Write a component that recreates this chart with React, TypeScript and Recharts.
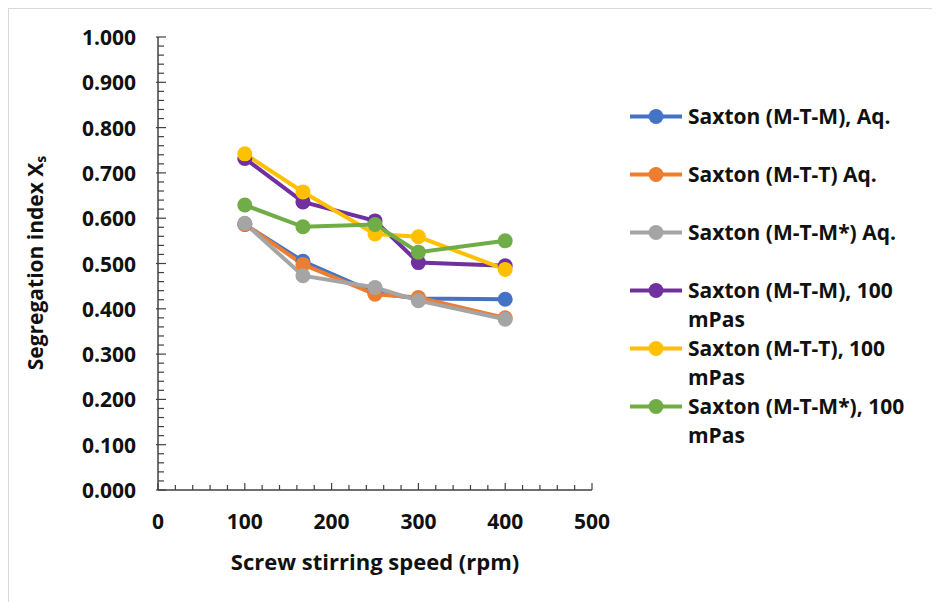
import React from "react";
import { LineChart, Line, XAxis, YAxis } from "recharts";

// screw stirring speed (rpm)
const speeds = [100, 167, 250, 300, 400];

// segregation index Xs per series
const mtmAq = [0.586, 0.505, 0.435, 0.423, 0.421];
const mttAq = [0.587, 0.498, 0.432, 0.425, 0.38];
const mtmStarAq = [0.589, 0.473, 0.447, 0.418, 0.377];
const mtm100 = [0.732, 0.636, 0.594, 0.502, 0.495];
const mtt100 = [0.742, 0.658, 0.565, 0.559, 0.487];
const mtmStar100 = [0.629, 0.581, 0.586, 0.525, 0.55];

const seriesNames = [
  "Saxton (M-T-M), Aq.",
  "Saxton (M-T-T) Aq.",
  "Saxton (M-T-M*) Aq.",
  "Saxton (M-T-M), 100 mPas",
  "Saxton (M-T-T), 100 mPas",
  "Saxton (M-T-M*), 100 mPas",
];
const seriesColors = ["#4472C4", "#ED7D31", "#A5A5A5", "#7030A0", "#FFC000", "#70AD47"];
const seriesValues = [mtmAq, mttAq, mtmStarAq, mtm100, mtt100, mtmStar100];

const yMajorTicks = [0, 0.1, 0.2, 0.3, 0.4, 0.5, 0.6, 0.7, 0.8, 0.9, 1.0];
const xMajorTicks = [0, 100, 200, 300, 400, 500];
const yTicks = Array.from({ length: 51 }, (_, i) => i / 50);
const xTicks = Array.from({ length: 26 }, (_, i) => i * 20);

const data = speeds.map((s, i) => {
  const row: Record<string, number> = { speed: s };
  seriesValues.forEach((vals, k) => {
    row["s" + k] = vals[i];
  });
  return row;
});

const FONT = "'Open Sans', sans-serif";
const INK = "#404040";
const TXT = "#111";
const FS = 21;

const isMajor = (v: number, list: number[]) => list.some((m) => Math.abs(m - v) < 1e-6);

function YTick(props: any) {
  const { x, y, payload } = props;
  const v = payload.value as number;
  const major = isMajor(v, yMajorTicks);
  return (
    <g>
      <line x1={major ? x - 2 : x} x2={x + (major ? 8 : 6)} y1={y} y2={y} stroke={INK} strokeWidth={1.2} />
      {major && (
        <text x={x - 22} y={y} textAnchor="end" dominantBaseline="central" fontFamily={FONT} fontWeight={700} fontSize={FS} fill={TXT}>
          {v.toFixed(3)}
        </text>
      )}
    </g>
  );
}

function XTick(props: any) {
  const { x, y, payload } = props;
  const v = payload.value as number;
  const major = isMajor(v, xMajorTicks);
  return (
    <g>
      <line x1={x} x2={x} y1={y} y2={y - (major ? 7 : 5)} stroke={INK} strokeWidth={1.2} />
      {major && (
        <text x={x} y={y + 31} textAnchor="middle" dominantBaseline="central" fontFamily={FONT} fontWeight={700} fontSize={FS} fill={TXT}>
          {v}
        </text>
      )}
    </g>
  );
}

function LegendBox() {
  return (
    <div
      style={{
        position: "absolute",
        left: 621,
        top: 93,
        fontFamily: FONT,
        fontWeight: 700,
        fontSize: FS,
        color: TXT,
      }}
    >
      {seriesNames.map((name, k) => (
        <div key={name} style={{ display: "flex", height: 58, alignItems: "flex-start" }}>
          <svg width={58} height={29} style={{ flex: "none" }}>
            <line x1={0} x2={52} y1={14.5} y2={14.5} stroke={seriesColors[k]} strokeWidth={4} />
            <circle cx={26} cy={14.5} r={7.5} fill={seriesColors[k]} />
          </svg>
          <div style={{ width: 232, lineHeight: "29px" }}>{name}</div>
        </div>
      ))}
    </div>
  );
}

export default function App() {
  return (
    <div
      style={{
        position: "relative",
        width: 932,
        height: 594,
        borderTop: "1px solid #d9d9d9",
        borderLeft: "1px solid #d9d9d9",
        background: "#fff",
      }}
    >
      <LineChart width={932} height={594} data={data} margin={{ top: 28, right: 349, bottom: 73, left: 0 }}>
        <XAxis
          dataKey="speed"
          type="number"
          domain={[0, 500]}
          ticks={xTicks}
          interval={0}
          tickSize={0}
          tickMargin={0}
          tick={<XTick />}
          height={40}
          axisLine={{ stroke: INK, strokeWidth: 1.5 }}
          label={{
            content: () => (
              <text x={366} y={552} textAnchor="middle" dominantBaseline="central" fontFamily={FONT} fontWeight={700} fontSize={22} fill={TXT}>
                Screw stirring speed (rpm)
              </text>
            ),
          }}
        />
        <YAxis
          type="number"
          domain={[0, 1]}
          ticks={yTicks}
          interval={0}
          width={149}
          tickSize={0}
          tickMargin={0}
          tick={<YTick />}
          axisLine={{ stroke: INK, strokeWidth: 1.5 }}
          label={{
            content: () => (
              <text
                x={26}
                y={254}
                transform="rotate(-90 26 254)"
                textAnchor="middle"
                dominantBaseline="central"
                fontFamily={FONT}
                fontWeight={700}
                fontSize={FS}
                fill={TXT}
              >
                Segregation index X<tspan fontSize={14} dy={5}>s</tspan>
              </text>
            ),
          }}
        />
        {seriesValues.map((_, k) => (
          <Line
            key={k}
            dataKey={"s" + k}
            name={seriesNames[k]}
            stroke={seriesColors[k]}
            strokeWidth={4}
            dot={{ r: 7.5, fill: seriesColors[k], stroke: seriesColors[k], strokeWidth: 0 }}
            activeDot={false}
            isAnimationActive={false}
          />
        ))}
      </LineChart>
      <LegendBox />
    </div>
  );
}
